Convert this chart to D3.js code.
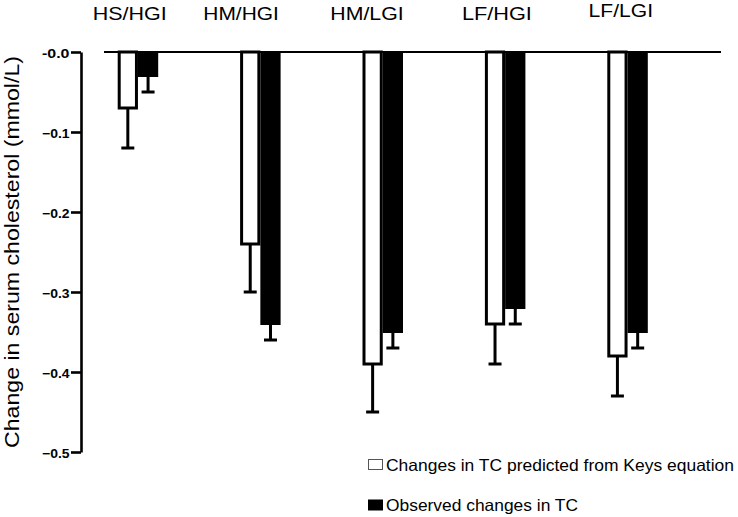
<!DOCTYPE html>
<html>
<head>
<meta charset="utf-8">
<script src="https://cdn.jsdelivr.net/npm/d3@7/dist/d3.min.js"></script>
<style>
  html, body { margin: 0; padding: 0; background: #fff; }
  svg { display: block; }
  text { font-family: "Liberation Sans", Arial, Helvetica, sans-serif; fill: #000; }
</style>
</head>
<body>
<svg id="chart" width="738" height="517"></svg>
<script>
// ---- data ----
const categories = ["HS/HGI", "HM/HGI", "HM/LGI", "LF/HGI", "LF/LGI"];
const seriesNames = ["Changes in TC predicted from Keys equation", "Observed changes in TC"];
const predicted = [-0.07, -0.24, -0.39, -0.34, -0.38];
const predictedErr = [0.05, 0.06, 0.06, 0.05, 0.05];
const observed = [-0.03, -0.34, -0.35, -0.32, -0.35];
const observedErr = [0.02, 0.02, 0.02, 0.02, 0.02];
const yTicks = [0, -0.1, -0.2, -0.3, -0.4, -0.5];
const yTitle = "Change in serum cholesterol (mmol/L)";

// ---- layout ----
const svg = d3.select("#chart");
const y = d3.scaleLinear().domain([0, -0.5]).range([52, 452]);
const x = d3.scaleBand().domain(categories).range([76.5, 688.5]).padding(0);
const xs = d3.scaleBand().domain([0, 1]).range([-20, 20.5]).padding(0);
const labelDx = [-8, -19, -15.5, -8, -6.5];
const labelY = [19.5, 19.5, 19.5, 20, 17.3];
const labelLen = [74, 75.5, 73.3, 70, 64.4];
const axisX = 81;

const center = c => x(c) + x.bandwidth() / 2;

// y axis
const yAxis = d3.axisLeft(y)
  .tickValues(yTicks)
  .tickSize(10)
  .tickSizeOuter(0)
  .tickPadding(1.5)
  .tickFormat(d => d === 0 ? "-0.0" : d3.format(".1f")(d));

const gy = svg.append("g").attr("transform", `translate(${axisX},0)`).call(yAxis);
gy.select(".domain").attr("stroke", "#000").attr("stroke-width", 2.6);
gy.selectAll(".tick line").attr("stroke", "#000").attr("stroke-width", 2.6);
gy.selectAll(".tick text")
  .attr("font-size", 12.5)
  .attr("font-weight", "bold")
  .attr("dy", "0.45em")
  .attr("textLength", 27.5)
  .attr("lengthAdjust", "spacingAndGlyphs")
  .style("font-family", "'Liberation Sans', Arial, sans-serif");

// y title
svg.append("text")
  .attr("transform", `translate(19,252) rotate(-90)`)
  .attr("text-anchor", "middle")
  .attr("font-size", 20)
  .attr("textLength", 392)
  .attr("lengthAdjust", "spacingAndGlyphs")
  .text(yTitle);

// zero line (x axis)
svg.append("line")
  .attr("x1", 104).attr("x2", 721)
  .attr("y1", y(0)).attr("y2", y(0))
  .attr("stroke", "#000").attr("stroke-width", 2.2);

// bars
const rows = categories.map((c, i) => ({
  c, i,
  vals: [
    { s: 0, v: predicted[i], e: predictedErr[i] },
    { s: 1, v: observed[i], e: observedErr[i] }
  ]
}));

const groups = svg.selectAll("g.grp").data(rows).enter().append("g")
  .attr("class", "grp")
  .attr("transform", d => `translate(${center(d.c)},0)`);

const bw = xs.bandwidth();

// error bars (drawn first, under bars)
groups.selectAll("g.err").data(d => d.vals).enter().append("g")
  .attr("class", "err")
  .each(function(d) {
    const g = d3.select(this);
    const cx = xs(d.s) + bw / 2;
    g.append("line")
      .attr("x1", cx).attr("x2", cx)
      .attr("y1", y(d.v)).attr("y2", y(d.v - d.e))
      .attr("stroke", "#000").attr("stroke-width", 3);
    g.append("line")
      .attr("x1", cx - 6.5).attr("x2", cx + 6.5)
      .attr("y1", y(d.v - d.e)).attr("y2", y(d.v - d.e))
      .attr("stroke", "#000").attr("stroke-width", 3);
  });

groups.selectAll("rect.bar").data(d => d.vals).enter().append("rect")
  .attr("class", "bar")
  .attr("x", d => d.s === 0 ? xs(d.s) + 1.5 : xs(d.s))
  .attr("width", d => d.s === 0 ? bw - 3 : bw)
  .attr("y", y(0))
  .attr("height", d => d.s === 0 ? y(d.v) - y(0) : y(d.v) - y(0) + 1)
  .attr("fill", d => d.s === 0 ? "#fff" : "#000")
  .attr("stroke", d => d.s === 0 ? "#000" : "none")
  .attr("stroke-width", 3);

// category labels at top
svg.selectAll("text.cat").data(categories).enter().append("text")
  .attr("class", "cat")
  .attr("x", (d, i) => center(d) + labelDx[i])
  .attr("y", (d, i) => labelY[i])
  .attr("text-anchor", "middle")
  .attr("font-size", 17.5)
  .attr("textLength", (d, i) => labelLen[i])
  .attr("lengthAdjust", "spacingAndGlyphs")
  .text(d => d);

// legend
const legendLen = [348, 192];
const leg = svg.selectAll("g.leg").data(seriesNames).enter().append("g")
  .attr("class", "leg")
  .attr("transform", (d, i) => `translate(368,${i === 0 ? 459 : 499.5})`);
leg.append("rect")
  .attr("x", 0.5).attr("y", 0.5)
  .attr("width", 14).attr("height", 10)
  .attr("fill", (d, i) => i === 0 ? "#fff" : "#000")
  .attr("stroke", (d, i) => i === 0 ? "#555" : "#000")
  .attr("stroke-width", 1);
leg.append("text")
  .attr("x", 18)
  .attr("y", 11.5)
  .attr("font-size", 16.5)
  .attr("textLength", (d, i) => legendLen[i])
  .attr("lengthAdjust", "spacingAndGlyphs")
  .text(d => d);
</script>
</body>
</html>
